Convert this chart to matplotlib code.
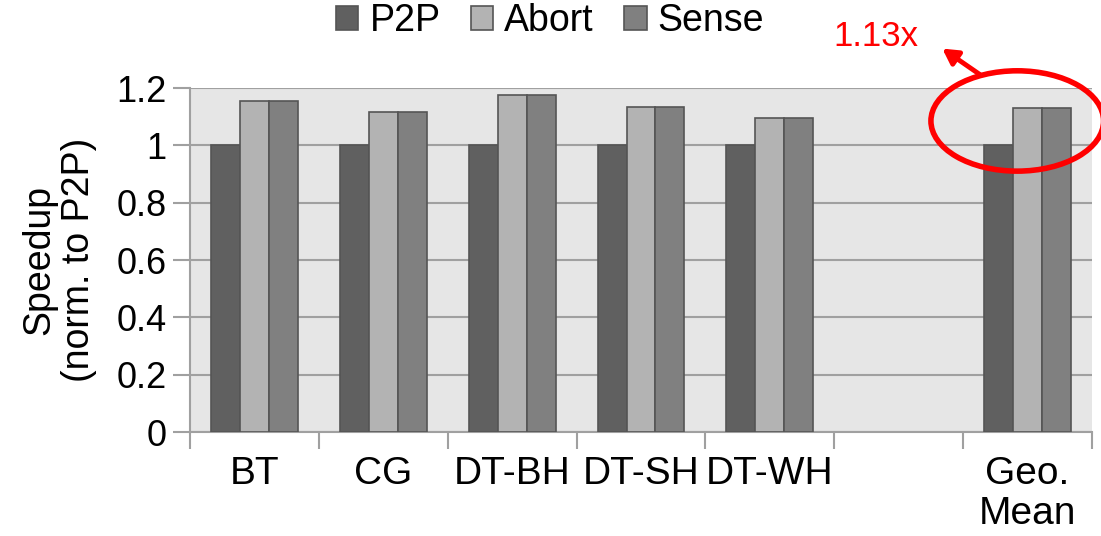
import numpy as np
import matplotlib
matplotlib.use("Agg")
import matplotlib.pyplot as plt
from matplotlib.patches import Ellipse

plt.rcParams['font.family'] = ['Liberation Sans', 'DejaVu Sans']

categories = ['BT', 'CG', 'DT-BH', 'DT-SH', 'DT-WH', '', 'Geo.\nMean']
p2p = [1.0, 1.0, 1.0, 1.0, 1.0, np.nan, 1.0]
abort = [1.155, 1.116, 1.176, 1.134, 1.095, np.nan, 1.13]
sense = [1.155, 1.116, 1.176, 1.134, 1.095, np.nan, 1.13]
series = [('P2P', p2p, '#606060'), ('Abort', abort, '#b3b3b3'), ('Sense', sense, '#808080')]

fig = plt.figure(figsize=(11.01, 5.36), dpi=100)
ax = fig.add_axes([190/1101, 1 - 432/536, 902/1101, 344/536])
ax.set_facecolor('#e6e6e6')

x = np.arange(len(categories))
w = 0.225
for i, (name, vals, col) in enumerate(series):
    ax.bar(x + (i - 1) * w, vals, w, color=col, edgecolor='#555555',
           linewidth=1.2, label=name, zorder=3)

ax.set_xlim(-0.5, len(categories) - 0.5)
ax.set_ylim(0, 1.2)
ax.set_yticks(np.arange(0, 1.21, 0.2))
ax.set_yticklabels(['0', '0.2', '0.4', '0.6', '0.8', '1', '1.2'], fontsize=26)
ax.yaxis.grid(True, color='#a0a0a0', linewidth=1.5, zorder=1)
ax.tick_params(axis='y', length=12, width=1.5, color='#a0a0a0', pad=5)

ax.set_xticks(x)
ax.set_xticklabels(categories, fontsize=28, linespacing=1.15)
ax.tick_params(axis='x', which='major', length=0, pad=17)
ax.set_xticks(np.arange(-0.5, len(categories), 1), minor=True)
ax.tick_params(axis='x', which='minor', length=12, width=1.5, color='#a0a0a0')

for s in ['top', 'right']:
    ax.spines[s].set_visible(False)
ax.spines['left'].set_color('#a0a0a0')
ax.spines['left'].set_linewidth(1.5)
ax.spines['bottom'].set_color('#a0a0a0')
ax.spines['bottom'].set_linewidth(1.5)

ax.set_ylabel('Speedup\n(norm. to P2P)', fontsize=27, linespacing=1.1, labelpad=14)

leg = fig.legend(loc='center', bbox_to_anchor=(550/1101, 1 - 21/536), ncol=3,
                 frameon=False, fontsize=27, handlelength=0.6, handleheight=0.6,
                 handletextpad=0.3, columnspacing=0.8)

# red highlight on the geometric mean
ell = Ellipse((5.92, 1.085), 1.34, 0.35, fill=False, edgecolor='red',
              linewidth=4, clip_on=False, zorder=5)
ax.add_patch(ell)
ax.annotate('', xy=(940, 536 - 47), xycoords='figure pixels',
            xytext=(982, 536 - 76), textcoords='figure pixels',
            arrowprops=dict(arrowstyle='-|>,head_length=0.9,head_width=0.5',
                            color='red', lw=3.5))
fig.text(876/1101, 1 - 36/536, '1.13x', color='red', fontsize=25,
         ha='center', va='center')

fig.savefig('out.png', dpi=100)
